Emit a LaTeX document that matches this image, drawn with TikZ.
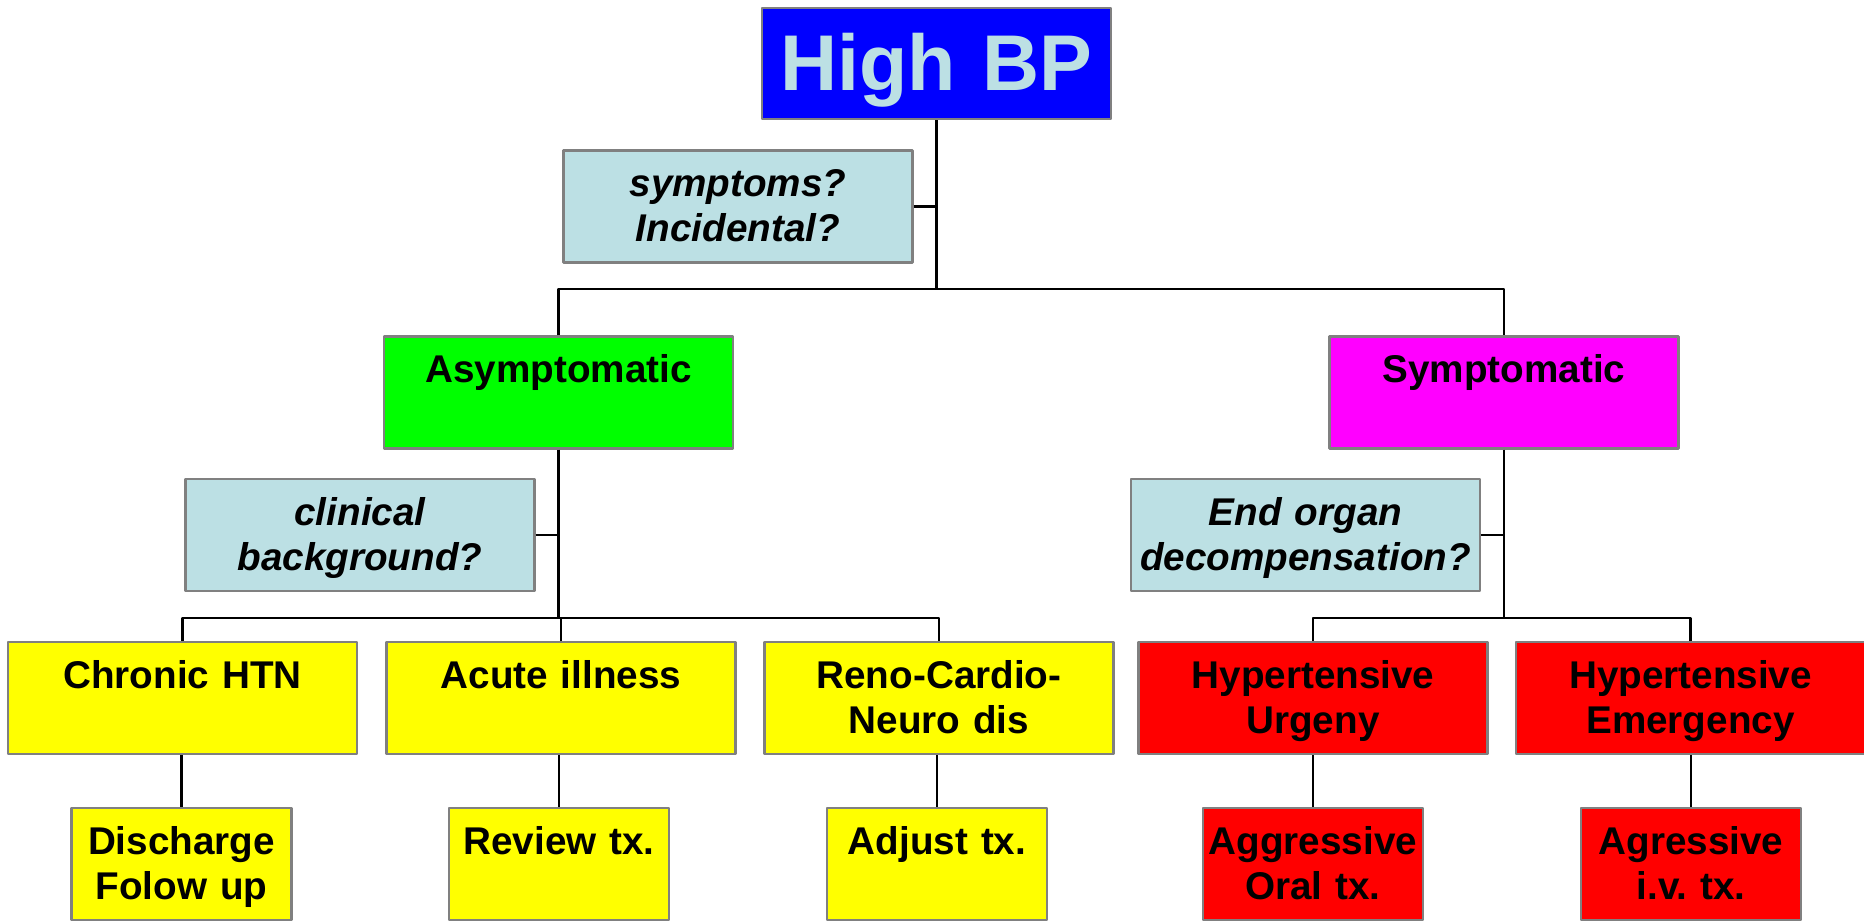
\documentclass[tikz,border=0pt]{standalone}
\usepackage{fontspec}
\setmainfont{Liberation Sans}
\frenchspacing
\definecolor{qblue}{RGB}{188,224,228}
\definecolor{frame}{RGB}{128,128,128}
\definecolor{bpblue}{RGB}{0,0,255}
\definecolor{asymgreen}{RGB}{0,255,0}
\definecolor{sympink}{RGB}{255,0,255}
\definecolor{chronicyellow}{RGB}{255,255,0}
\definecolor{urgred}{RGB}{255,0,0}
\begin{document}
\begin{tikzpicture}[line join=round,
	box/.style={draw=frame, line width=0.7pt, inner xsep=0pt, inner ysep=0pt, align=center,
		text width=3.49cm, minimum width=3.49cm, text height=0.46cm, text depth=0.66cm,
		font=\fontsize{11}{12.8}\selectfont\bfseries},
	small/.style={box, text width=2.2cm, minimum width=2.2cm},
	quest/.style={box, fill=qblue, font=\fontsize{11}{12.8}\selectfont\bfseries\itshape},
	link/.style={line width=0.6pt}]
	\useasboundingbox (0,0) rectangle (18.64,-9.2);
	\node[box, fill=bpblue, text=qblue, text height=0.82cm, text depth=0.29cm,
		font=\fontsize{22.5}{24}\selectfont\bfseries] (top) at (9.365,-0.635) {High BP};
	\node[quest] (q1) at (7.38,-2.065) {symptoms?\\Incidental?};
	\node[box, fill=asymgreen] (asym) at (5.585,-3.925) {Asymptomatic};
	\node[box, fill=sympink] (sym) at (15.04,-3.925) {Symptomatic};
	\node[quest] (q2) at (3.60,-5.35) {clinical\\background?};
	\node[quest] (q3) at (13.055,-5.35) {End organ\\decompensation?};
	\node[box, fill=chronicyellow] (chronic) at (1.825,-6.98) {Chronic HTN};
	\node[box, fill=chronicyellow] (acute) at (5.61,-6.98) {Acute illness};
	\node[box, fill=chronicyellow] (reno) at (9.39,-6.98) {Reno-Cardio-\\Neuro dis};
	\node[box, fill=urgred] (urg) at (13.13,-6.98) {Hypertensive\\Urgeny};
	\node[box, fill=urgred] (emerg) at (16.905,-6.98) {Hypertensive\\Emergency};
	\node[small, fill=chronicyellow] (discharge) at (1.815,-8.64) {Discharge\\Folow up};
	\node[small, fill=chronicyellow] (review) at (5.59,-8.64) {Review tx.};
	\node[small, fill=chronicyellow] (adjust) at (9.37,-8.64) {Adjust tx.};
	\node[small, fill=urgred] (oral) at (13.13,-8.64) {Aggressive\\Oral tx.};
	\node[small, fill=urgred] (iv) at (16.91,-8.64) {Agressive\\i.v. tx.};
	\draw[link] (top.south) -- ++(0,-1.69) coordinate (j1);
	\draw[link] (asym.north) |- (j1) -| (sym.north);
	\draw[link] (q1.east) -- (q1.east -| top.south);
	\draw[link] (asym.south) -- ++(0,-1.68) coordinate (j2);
	\draw[link] (chronic.north) |- (j2) -| (reno.north);
	\draw[link] (acute.north) -- (acute.north |- j2);
	\draw[link] (q2.east) -- (q2.east -| asym.south);
	\draw[link] (sym.south) -- ++(0,-1.68) coordinate (j3);
	\draw[link] (urg.north) |- (j3) -| (emerg.north);
	\draw[link] (q3.east) -- (q3.east -| sym.south);
	\draw[link]
	(discharge.north) -- (discharge.north |- chronic.south)
	(review.north) -- (review.north |- acute.south)
	(adjust.north) -- (adjust.north |- reno.south)
	(oral.north) -- (oral.north |- urg.south)
	(iv.north) -- (iv.north |- emerg.south)
	;
\end{tikzpicture}
\end{document}
